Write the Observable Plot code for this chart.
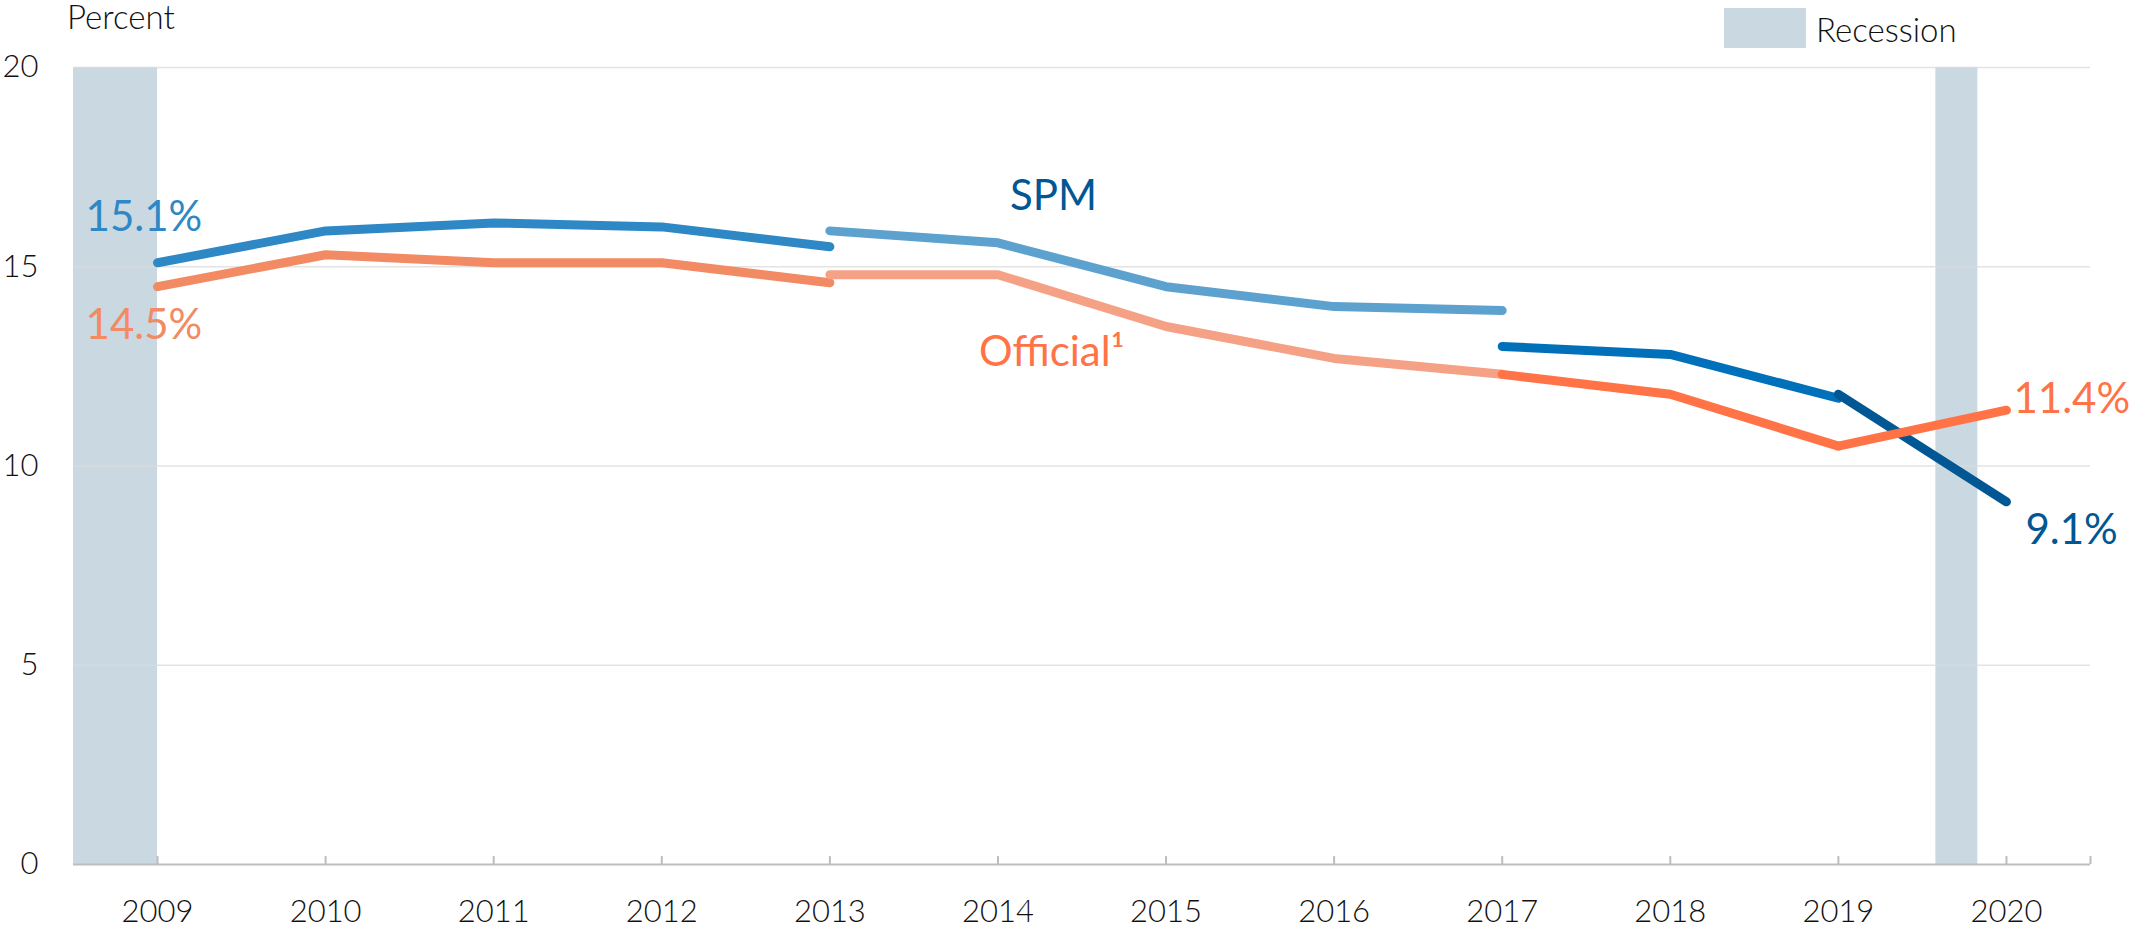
<!DOCTYPE html>
<html><head><meta charset="utf-8">
<script src="https://cdn.jsdelivr.net/npm/d3@7"></script>
<script src="https://cdn.jsdelivr.net/npm/@observablehq/plot@0.6"></script>
<style>
html,body{margin:0;padding:0;background:#fff;}
#wrap{position:relative;width:2144px;height:929px;font-family:Lato,"Open Sans",sans-serif;}
#wrap svg{position:absolute;left:0;top:0;}
.hdr{position:absolute;font-size:33px;line-height:33px;font-weight:300;color:#111;white-space:nowrap;}
.sw{position:absolute;background:#C9D8E1;}
</style></head><body><div id="wrap"></div>
<script>
// ---- data ----
const years = [2009,2010,2011,2012,2013,2014,2015,2016,2017,2018,2019,2020];
const yTicks = [0,5,10,15,20];
const recessionStart = [2008.5, 2019.58];
const recessionEnd = [2009, 2019.83];

// SPM segments
const spmYears1 = [2009,2010,2011,2012,2013];
const spm1 = [15.1,15.9,16.1,16.0,15.5];
const spmYears2 = [2013,2014,2015,2016,2017];
const spm2 = [15.9,15.6,14.5,14.0,13.9];
const spmYears3 = [2017,2018,2019];
const spm3 = [13.0,12.8,11.7];
const spmYears4 = [2019,2020];
const spm4 = [11.8,9.1];

// Official segments
const offYears1 = [2009,2010,2011,2012,2013];
const off1 = [14.5,15.3,15.1,15.1,14.6];
const offYears2 = [2013,2014,2015,2016,2017];
const off2 = [14.8,14.8,13.5,12.7,12.3];
const offYears3 = [2017,2018,2019];
const off3 = [12.3,11.8,10.5];
const offYears4 = [2019,2020];
const off4 = [10.5,11.4];

// ---- build ----
const pts = (xs, vs) => xs.map((x, i) => ({x, y: vs[i]}));
const recessions = recessionStart.map((s, i) => ({x1: s, x2: recessionEnd[i]}));

const segs = [
  [pts(spmYears1, spm1), "#2E88C5"],
  [pts(spmYears2, spm2), "#5DA2CF"],
  [pts(spmYears3, spm3), "#0070BA"],
  [pts(spmYears4, spm4), "#005794"],
  [pts(offYears1, off1), "#F28A64"],
  [pts(offYears2, off2), "#F5A185"],
  [pts(offYears3, off3), "#FF7346"],
  [pts(offYears4, off4), "#FF7346"]
];

const labels = [
  {x: 2009, y: spm1[0], text: "15.1%", fill: "#2E88C5", dx: -72, dy: -45},
  {x: 2009, y: off1[0], text: "14.5%", fill: "#F28A64", dx: -72, dy: 39},
  {x: 2014, y: spm2[1], text: "SPM", fill: "#005794", dx: 12, dy: -46},
  {x: 2014, y: off2[1], text: "Official\u00B9", fill: "#FF7346", dx: -19, dy: 78},
  {x: 2020, y: off4[1], text: "11.4%", fill: "#FF7346", dx: 7, dy: -11},
  {x: 2020, y: spm4[1], text: "9.1%", fill: "#005794", dx: 19, dy: 29}
];

const marks = [
  Plot.rect(recessions, {x1: "x1", x2: "x2", y1: 0, y2: 20, fill: "#C9D8E1"}),
  Plot.ruleY([5,10,15,20], {stroke: "#dcdcdc", strokeWidth: 1.5, strokeOpacity: 0.8}),
  Plot.ruleY([0], {stroke: "#bdbdbd", strokeWidth: 2}),
  Plot.ruleX([...years, 2020.5], {y1: 0, y2: 0.2, stroke: "#bdbdbd", strokeWidth: 2}),
  ...segs.map(([d, c]) => Plot.line(d, {x: "x", y: "y", stroke: c, strokeWidth: 9, strokeLinecap: "round", strokeLinejoin: "round"})),
  ...labels.map(l => Plot.text([l], {x: "x", y: "y", text: "text", fill: l.fill, dx: l.dx, dy: l.dy, textAnchor: "start", fontSize: 42}))
];

const chart = Plot.plot({
  width: 2144,
  height: 929,
  marginLeft: 73,
  marginRight: 54,
  marginTop: 67,
  marginBottom: 65,
  style: {fontFamily: "Lato, 'Open Sans', sans-serif", background: "#fff", overflow: "visible"},
  x: {domain: [2008.5, 2020.5], label: null},
  y: {domain: [0, 20], label: null},
  marks: [
    ...marks,
    Plot.axisX({ticks: years, tickFormat: d => String(d), tickSize: 0, tickPadding: 35, label: null, fontSize: 31, fill: "#111", fontWeight: 300}),
    Plot.axisY({ticks: yTicks, tickSize: 0, tickPadding: 35, label: null, fontSize: 31, fill: "#111", fontWeight: 300})
  ]
});

const wrap = document.getElementById("wrap");
wrap.appendChild(chart);

const pct = document.createElement("div");
pct.className = "hdr";
pct.style.left = "67px";
pct.style.top = "0px";
pct.textContent = "Percent";
wrap.appendChild(pct);

const sw = document.createElement("div");
sw.className = "sw";
sw.style.left = "1724px"; sw.style.top = "8px"; sw.style.width = "82px"; sw.style.height = "40px";
wrap.appendChild(sw);

const rec = document.createElement("div");
rec.className = "hdr";
rec.style.left = "1816px";
rec.style.top = "13px";
rec.textContent = "Recession";
wrap.appendChild(rec);
</script>
</body></html>
